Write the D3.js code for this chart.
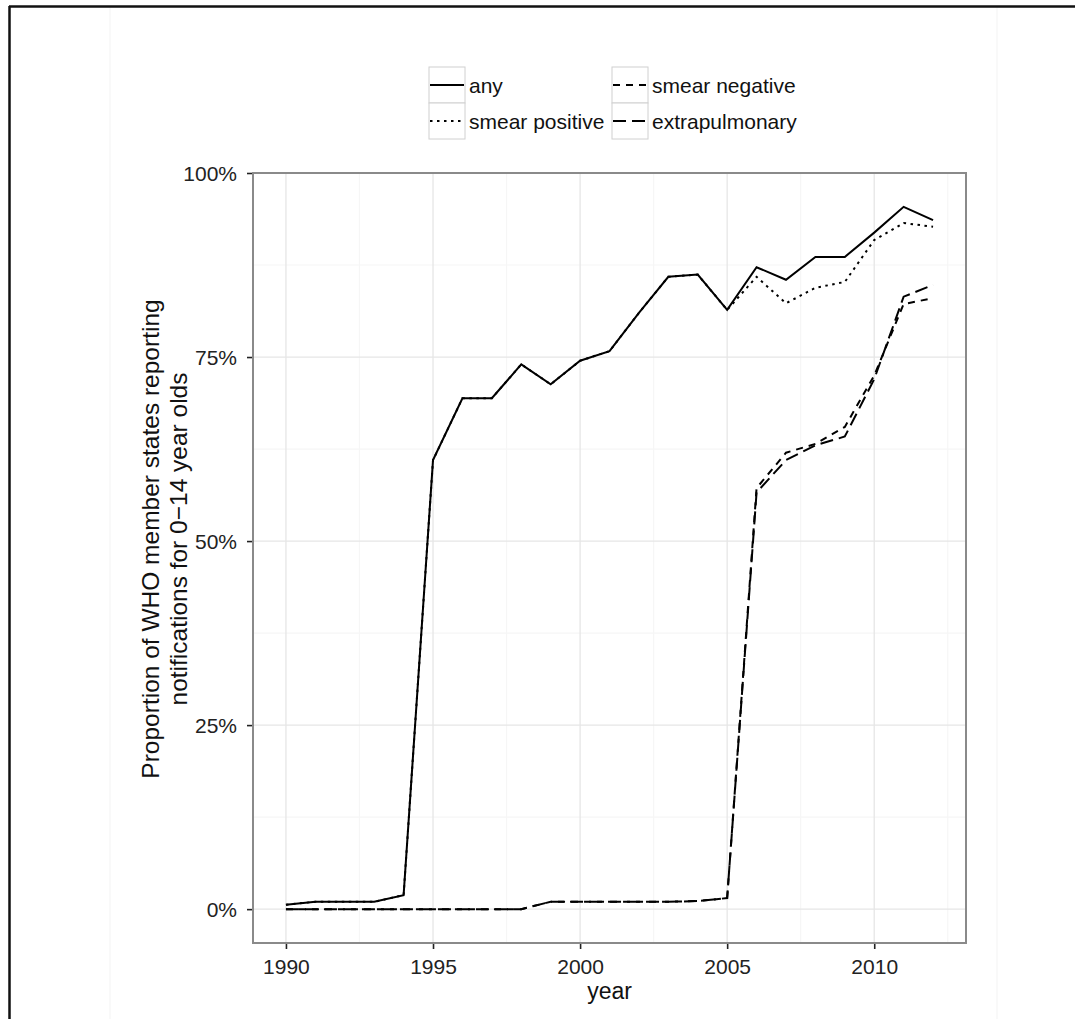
<!DOCTYPE html>
<html>
<head>
<meta charset="utf-8">
<script src="https://cdn.jsdelivr.net/npm/d3@7"></script>
<style>
  body { margin: 0; background: #fff; }
  svg { display: block; font-family: "Liberation Sans", Arial, sans-serif; }
</style>
</head>
<body>
<div id="chart"></div>
<script>
// data
const years = [1990,1991,1992,1993,1994,1995,1996,1997,1998,1999,2000,2001,2002,2003,2004,2005,2006,2007,2008,2009,2010,2011,2012];
const anyVals    = [0.006,0.010,0.010,0.010,0.019,0.610,0.694,0.694,0.740,0.713,0.745,0.758,0.810,0.859,0.862,0.814,0.872,0.855,0.886,0.886,0.919,0.954,0.936];
const smearPos   = [0.006,0.010,0.010,0.010,0.019,0.610,0.694,0.694,0.740,0.713,0.745,0.758,0.810,0.859,0.862,0.814,0.859,0.823,0.844,0.852,0.909,0.932,0.927];
const smearNeg   = [0,0,0,0,0,0,0,0,0,0.010,0.010,0.010,0.010,0.010,0.011,0.015,0.572,0.620,0.632,0.655,0.725,0.822,0.830];
const extraPulm  = [0,0,0,0,0,0,0,0,0,0.010,0.010,0.010,0.010,0.010,0.011,0.015,0.566,0.610,0.630,0.642,0.720,0.832,0.848];
const seriesNames = ["any", "smear positive", "smear negative", "extrapulmonary"];
const xTicks = [1990, 1995, 2000, 2005, 2010];
const yTicks = [0, 0.25, 0.5, 0.75, 1];

const W = 1075, H = 1019;
const svg = d3.select("#chart").append("svg").attr("width", W).attr("height", H);

// outer frame of the original figure
svg.append("line").attr("x1", 110).attr("x2", 110).attr("y1", 7).attr("y2", H).attr("stroke", "#f3f3f3");
svg.append("line").attr("x1", 997).attr("x2", 997).attr("y1", 7).attr("y2", H).attr("stroke", "#f3f3f3");
svg.append("line").attr("x1", 9).attr("x2", W).attr("y1", 6.5).attr("y2", 6.5).attr("stroke", "#111").attr("stroke-width", 2.5);
svg.append("line").attr("x1", 9.5).attr("x2", 9.5).attr("y1", 6).attr("y2", H).attr("stroke", "#111").attr("stroke-width", 2.5);

// panel
const pLeft = 253, pRight = 966, pTop = 173, pBottom = 943;
const x = d3.scaleLinear().domain([1988.88, 2013.12]).range([pLeft, pRight]);
const y = d3.scaleLinear().domain([-0.046, 1.0]).range([pBottom, pTop]);

const grid = svg.append("g");
// minor grid
[1992.5, 1997.5, 2002.5, 2007.5, 2012.5].forEach(v => {
  grid.append("line").attr("x1", x(v)).attr("x2", x(v)).attr("y1", pTop).attr("y2", pBottom)
    .attr("stroke", "#f6f6f6").attr("stroke-width", 1.2);
});
[0.125, 0.375, 0.625, 0.875].forEach(v => {
  grid.append("line").attr("x1", pLeft).attr("x2", pRight).attr("y1", y(v)).attr("y2", y(v))
    .attr("stroke", "#f6f6f6").attr("stroke-width", 1.2);
});
// major grid
xTicks.forEach(v => {
  grid.append("line").attr("x1", x(v)).attr("x2", x(v)).attr("y1", pTop).attr("y2", pBottom)
    .attr("stroke", "#e6e6e6").attr("stroke-width", 1.3);
});
yTicks.forEach(v => {
  grid.append("line").attr("x1", pLeft).attr("x2", pRight).attr("y1", y(v)).attr("y2", y(v))
    .attr("stroke", "#e6e6e6").attr("stroke-width", 1.3);
});

// lines
const seriesVals = [anyVals, smearPos, smearNeg, extraPulm];
const dashes = [null, "2.5,4.5", "7,6", "13,6"];
const line = d3.line().x(d => x(d[0])).y(d => y(d[1]));
// draw back to front so the solid one sits on top
[3, 2, 1, 0].forEach(i => {
  svg.append("path")
    .datum(years.map((yr, j) => [yr, seriesVals[i][j]]))
    .attr("d", line)
    .attr("fill", "none")
    .attr("stroke", "#000")
    .attr("stroke-width", 2)
    .attr("stroke-dasharray", dashes[i]);
});

// panel border
svg.append("rect").attr("x", pLeft).attr("y", pTop).attr("width", pRight - pLeft).attr("height", pBottom - pTop)
  .attr("fill", "none").attr("stroke", "#8a8a8a").attr("stroke-width", 2);

// axes
const xAxis = svg.append("g").attr("transform", `translate(0,${pBottom + 1})`)
  .call(d3.axisBottom(x).tickValues(xTicks).tickFormat(d3.format("d")).tickSize(5).tickPadding(10));
const yAxis = svg.append("g").attr("transform", `translate(${pLeft - 1},0)`)
  .call(d3.axisLeft(y).tickValues(yTicks).tickFormat(d3.format(".0%")).tickSize(5).tickPadding(10));
[xAxis, yAxis].forEach(a => {
  a.select(".domain").remove();
  a.selectAll(".tick line").attr("stroke", "#222").attr("stroke-width", 1.6);
  a.selectAll(".tick text").attr("fill", "#222").attr("font-size", 21).attr("font-family", "Liberation Sans, Arial, sans-serif");
});
yAxis.selectAll(".tick text").attr("dy", "0.36em");

// axis titles
svg.append("text").attr("x", (pLeft + pRight) / 2).attr("y", 999).attr("text-anchor", "middle")
  .attr("font-size", 23).attr("fill", "#111").text("year");
const yt = svg.append("text").attr("transform", "rotate(-90)")
  .attr("text-anchor", "middle").attr("font-size", 24.5).attr("fill", "#111");
yt.append("tspan").attr("x", -539).attr("y", 159).text("Proportion of WHO member states reporting");
yt.append("tspan").attr("x", -539).attr("y", 187).text("notifications for 0\u221214 year olds");

// legend
const keyW = 36, keyH = 36;
const legendItems = [
  { name: seriesNames[0], dash: dashes[0], kx: 429, ky: 67 },
  { name: seriesNames[1], dash: dashes[1], kx: 429, ky: 103 },
  { name: seriesNames[2], dash: dashes[2], kx: 612, ky: 67 },
  { name: seriesNames[3], dash: dashes[3], kx: 612, ky: 103 }
];
const lg = svg.append("g").attr("class", "legend");
legendItems.forEach(d => {
  lg.append("rect").attr("x", d.kx).attr("y", d.ky).attr("width", keyW).attr("height", keyH)
    .attr("fill", "#fff").attr("stroke", "#d0d0d0").attr("stroke-width", 1);
  lg.append("line").attr("x1", d.kx + 1).attr("x2", d.kx + keyW - 1)
    .attr("y1", d.ky + keyH / 2).attr("y2", d.ky + keyH / 2)
    .attr("stroke", "#000").attr("stroke-width", 2).attr("stroke-dasharray", d.dash);
  lg.append("text").attr("x", d.kx + keyW + 4).attr("y", d.ky + keyH / 2).attr("dy", "0.36em")
    .attr("font-size", 21).attr("fill", "#111").text(d.name);
});
</script>
</body>
</html>
